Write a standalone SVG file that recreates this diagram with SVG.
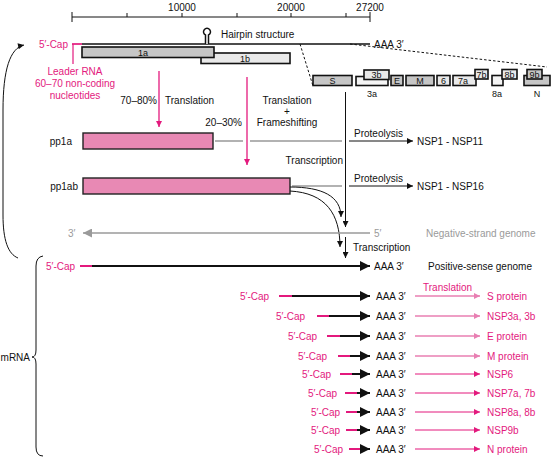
<svg xmlns="http://www.w3.org/2000/svg" width="553" height="457" viewBox="0 0 553 457">
<style>
text{font-family:"Liberation Sans",Arial,sans-serif;font-size:10px;fill:#111}
.pk{fill:#e3197d}
.gy{fill:#9a9a9a}
.m{text-anchor:middle}
.e{text-anchor:end}
.sm{font-size:9px}
.ln{stroke:#111;stroke-width:1;fill:none}
.thk{stroke:#111;stroke-width:1.7;fill:none}
.pkl{stroke:#e3197d;stroke-width:1.3;fill:none}
.box{stroke:#111;stroke-width:1.6}
.g{fill:#c6c6c6}
.gl{fill:#e9e9e9}
.w{fill:#f4f4f4}
.pbox{fill:#e889b4;stroke:#222;stroke-width:1.4}
</style>
<defs>
<marker id="ah" viewBox="0 0 10 10" refX="10" refY="5" markerWidth="7" markerHeight="6" markerUnits="userSpaceOnUse" orient="auto"><path d="M0 0L10 5L0 10z" fill="#111"/></marker>
<marker id="ahb" viewBox="0 0 10 10" refX="10" refY="5" markerWidth="10" markerHeight="10" markerUnits="userSpaceOnUse" orient="auto"><path d="M0 0L10 5L0 10z" fill="#111"/></marker>
<marker id="ahp" viewBox="0 0 10 10" refX="10" refY="5" markerWidth="7" markerHeight="6" markerUnits="userSpaceOnUse" orient="auto"><path d="M0 0L10 5L0 10z" fill="#e3197d"/></marker>
<marker id="ahl" viewBox="0 0 10 10" refX="10" refY="5" markerWidth="7" markerHeight="6" markerUnits="userSpaceOnUse" orient="auto"><path d="M0 0L10 5L0 10z" fill="#e87fb2"/></marker>
<marker id="ahg" viewBox="0 0 10 10" refX="10" refY="5" markerWidth="10" markerHeight="9" markerUnits="userSpaceOnUse" orient="auto"><path d="M0 0L10 5L0 10z" fill="#9a9a9a"/></marker>
</defs>

<g id="scale">
<path class="ln" d="M72 17H370M72 12V22M370 12V22M127 13V17M182 13V17M237 13V17M291 13V17M346 13V17"/>
<text class="m" x="182" y="11">10000</text>
<text class="m" x="291" y="11">20000</text>
<text class="m" x="370" y="11">27200</text>
</g>

<g id="genome">
<text class="pk e" x="68" y="48">5′-Cap</text>
<path d="M72 44H82" stroke="#e3197d" stroke-width="1.7"/>
<path d="M73 44V64" stroke="#e3197d" stroke-width="1.2"/>
<path class="thk" d="M82 44H370"/>
<path d="M205.5 44V35A3.5 3.5 0 1 1 208.5 35V44" fill="#fff" stroke="#111" stroke-width="1.5"/>
<text x="221" y="37.5">Hairpin structure</text>
<text x="374" y="47.5">AAA 3′</text>
<rect class="box gl" x="201" y="53" width="89" height="10.5"/>
<text class="m sm" x="245" y="61.5">1b</text>
<rect class="box g" x="82" y="47" width="132" height="10.5"/>
<text class="m sm" x="143" y="55.5">1a</text>
</g>

<g id="leader">
<text class="pk m" x="75" y="75">Leader RNA</text>
<text class="pk m" x="75" y="87">60–70 non-coding</text>
<text class="pk m" x="75" y="99">nucleotides</text>
</g>

<g id="zoom-lines">
<path d="M300 44L313 86M350 44L547 67" stroke="#111" stroke-width="1" stroke-dasharray="2.5 2" fill="none"/>
</g>

<g id="orfs">
<rect class="box g" x="313" y="75.5" width="39" height="10"/>
<text class="m sm" x="332.5" y="83.8">S</text>
<rect class="box w" x="356" y="76.5" width="32" height="9"/>
<rect class="box gl" x="364" y="70" width="25" height="9.5"/>
<text class="m sm" x="376.5" y="78">3b</text>
<text class="m sm" x="372" y="97">3a</text>
<rect class="box g" x="391" y="75.5" width="12" height="10"/>
<text class="m sm" x="397" y="83.8">E</text>
<rect class="box g" x="406" y="75.5" width="28" height="10"/>
<text class="m sm" x="420" y="83.8">M</text>
<rect class="box gl" x="437" y="75.5" width="13" height="10"/>
<text class="m sm" x="443.5" y="83.8">6</text>
<rect class="box gl" x="453" y="75.5" width="23" height="10"/>
<text class="m sm" x="463" y="83.8">7a</text>
<rect class="box gl" x="475" y="69.5" width="13" height="9.5"/>
<text class="m sm" x="481.5" y="77.5">7b</text>
<rect class="box w" x="492" y="75.5" width="11" height="10"/>
<rect class="box gl" x="502" y="69.5" width="15" height="9.5"/>
<text class="m sm" x="509.5" y="77.5">8b</text>
<text class="m sm" x="497" y="97">8a</text>
<rect class="box g" x="524" y="75.5" width="26" height="10"/>
<rect class="box g" x="527" y="69.5" width="15" height="9.5"/>
<text class="m sm" x="534.5" y="77.5">9b</text>
<text class="m sm" x="537" y="97">N</text>
</g>

<g id="translation-labels">
<text class="e" x="157" y="104">70–80%</text>
<text x="165" y="104">Translation</text>
<text class="e" x="242" y="125.5">20–30%</text>
<text class="m" x="287" y="104">Translation</text>
<text class="m" x="287" y="115">+</text>
<text class="m" x="287" y="126">Frameshifting</text>
</g>

<g id="pp1a">
<text class="e" x="72" y="145">pp1a</text>
<rect class="pbox" x="83" y="133" width="130" height="16"/>
</g>
<g id="pp1ab">
<text class="e" x="78" y="190">pp1ab</text>
<rect class="pbox" x="83" y="178" width="207" height="16"/>
</g>

<g id="connectors">
<path class="pkl" d="M159 71V127" marker-end="url(#ahp)"/>
<path class="pkl" d="M247 77V165" marker-end="url(#ahp)"/>
<path d="M215 141H243M250 141H342M292 186H342" stroke="#666" stroke-width="1.2" fill="none"/>
<path class="ln" d="M349 141H413" marker-end="url(#ah)"/>
<path class="ln" d="M349 186H413" marker-end="url(#ah)"/>
<path class="ln" d="M345.5 92V227" marker-end="url(#ah)"/>
<path class="ln" d="M345.5 237V258" marker-end="url(#ah)"/>
<path class="ln" d="M290 187C322 187 341 196 341 217" marker-end="url(#ah)"/>
<path class="ln" d="M290 191C326 193 340 214 340 247" marker-end="url(#ah)"/>
<path d="M370 233H83" stroke="#9a9a9a" stroke-width="1.6" fill="none" marker-end="url(#ahg)"/>
<path class="ln" d="M18 258C8 254 3 240 3 215V110C3 70 10 48 24 45" marker-end="url(#ah)"/>
<path class="ln" d="M43 256Q36 257 36 266V350Q36 357 32 357Q36 357 36 364V447Q36 456 43 456"/>
</g>

<g id="labels">
<text x="354" y="136.5">Proteolysis</text>
<text x="417" y="144.5">NSP1 - NSP11</text>
<text x="354" y="182">Proteolysis</text>
<text x="417" y="189.5">NSP1 - NSP16</text>
<text class="e" x="343" y="163.5">Transcription</text>
<text x="353" y="250.5">Transcription</text>
<text class="gy" x="68" y="236.5">3′</text>
<text class="gy" x="374" y="236.5">5′</text>
<text class="gy" x="426" y="236.5">Negative-strand genome</text>
<text class="e" x="30" y="360.5">mRNA</text>
</g>

<g id="positive-genome">
<text class="pk" x="46" y="269.5">5′-Cap</text>
<path d="M80 266H92" stroke="#e3197d" stroke-width="2"/>
<path d="M92 266H370" stroke="#111" stroke-width="2" marker-end="url(#ahb)"/>
<text x="374" y="269.5">AAA 3′</text>
<text x="428" y="269.5">Positive-sense genome</text>
</g>

<g id="sg1">
<text class="pk" x="240" y="299.5">5′-Cap</text>
<path d="M279 296H292" stroke="#e3197d" stroke-width="2"/>
<path d="M292 296H370" stroke="#111" stroke-width="2" marker-end="url(#ahb)"/>
<text x="376" y="299.5">AAA 3′</text>
<text class="pk" x="423" y="290.5">Translation</text>
<path d="M415 296H480" stroke="#e87fb2" stroke-width="1.6" marker-end="url(#ahl)"/>
<text class="pk" x="487" y="299.5">S protein</text>
</g>
<g id="sg2">
<text class="pk" x="276" y="319.5">5′-Cap</text>
<path d="M317 316H329" stroke="#e3197d" stroke-width="2"/>
<path d="M329 316H370" stroke="#111" stroke-width="2" marker-end="url(#ahb)"/>
<text x="376" y="319.5">AAA 3′</text>
<path d="M415 316H480" stroke="#e87fb2" stroke-width="1.6" marker-end="url(#ahl)"/>
<text class="pk" x="487" y="319.5">NSP3a, 3b</text>
</g>
<g id="sg3">
<text class="pk" x="288" y="339.5">5′-Cap</text>
<path d="M327 336H340" stroke="#e3197d" stroke-width="2"/>
<path d="M340 336H370" stroke="#111" stroke-width="2" marker-end="url(#ahb)"/>
<text x="376" y="339.5">AAA 3′</text>
<path d="M415 336H480" stroke="#e87fb2" stroke-width="1.6" marker-end="url(#ahl)"/>
<text class="pk" x="487" y="339.5">E protein</text>
</g>
<g id="sg4">
<text class="pk" x="298" y="359.5">5′-Cap</text>
<path d="M338 356H350" stroke="#e3197d" stroke-width="2"/>
<path d="M350 356H370" stroke="#111" stroke-width="2" marker-end="url(#ahb)"/>
<text x="376" y="359.5">AAA 3′</text>
<path d="M415 356H480" stroke="#e87fb2" stroke-width="1.6" marker-end="url(#ahl)"/>
<text class="pk" x="487" y="359.5">M protein</text>
</g>
<g id="sg5">
<text class="pk" x="302" y="377.5">5′-Cap</text>
<path d="M340 374H352" stroke="#e3197d" stroke-width="2"/>
<path d="M352 374H370" stroke="#111" stroke-width="2" marker-end="url(#ahb)"/>
<text x="376" y="377.5">AAA 3′</text>
<path d="M415 374H480" stroke="#e3197d" stroke-width="1" marker-end="url(#ahp)"/>
<text class="pk" x="487" y="377.5">NSP6</text>
</g>
<g id="sg6">
<text class="pk" x="308" y="396.5">5′-Cap</text>
<path d="M345 393H357" stroke="#e3197d" stroke-width="2"/>
<path d="M357 393H370" stroke="#111" stroke-width="2" marker-end="url(#ahb)"/>
<text x="376" y="396.5">AAA 3′</text>
<path d="M415 393H480" stroke="#e3197d" stroke-width="1" marker-end="url(#ahp)"/>
<text class="pk" x="487" y="396.5">NSP7a, 7b</text>
</g>
<g id="sg7">
<text class="pk" x="311" y="415.5">5′-Cap</text>
<path d="M346 412H357" stroke="#e3197d" stroke-width="2"/>
<path d="M357 412H370" stroke="#111" stroke-width="2" marker-end="url(#ahb)"/>
<text x="376" y="415.5">AAA 3′</text>
<path d="M415 412H480" stroke="#e3197d" stroke-width="1" marker-end="url(#ahp)"/>
<text class="pk" x="487" y="415.5">NSP8a, 8b</text>
</g>
<g id="sg8">
<text class="pk" x="311" y="433.5">5′-Cap</text>
<path d="M346 430H357" stroke="#e3197d" stroke-width="2"/>
<path d="M357 430H370" stroke="#111" stroke-width="2" marker-end="url(#ahb)"/>
<text x="376" y="433.5">AAA 3′</text>
<path d="M415 430H480" stroke="#e3197d" stroke-width="1" marker-end="url(#ahp)"/>
<text class="pk" x="487" y="433.5">NSP9b</text>
</g>
<g id="sg9">
<text class="pk" x="314" y="452.5">5′-Cap</text>
<path d="M349 449H360" stroke="#e3197d" stroke-width="2"/>
<path d="M360 449H370" stroke="#111" stroke-width="2" marker-end="url(#ahb)"/>
<text x="376" y="452.5">AAA 3′</text>
<path d="M415 449H480" stroke="#e3197d" stroke-width="1" marker-end="url(#ahp)"/>
<text class="pk" x="487" y="452.5">N protein</text>
</g>
</svg>
